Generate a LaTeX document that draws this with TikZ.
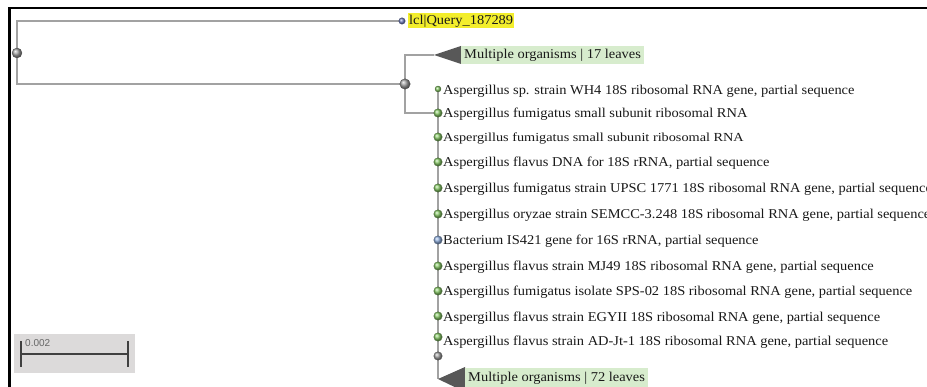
\documentclass[tikz,border=0pt]{standalone}
\usepackage{fontspec}
\setmainfont[FakeStretch=1.07]{Liberation Serif}
\newfontfamily\widefont[FakeStretch=1.16]{Liberation Serif}
\newfontfamily\barfont{Liberation Sans}
\usetikzlibrary{backgrounds}
\definecolor{edgegray}{HTML}{A2A2A2}
\definecolor{leafgreen}{HTML}{86C865}
\definecolor{cladebg}{HTML}{D7ECCD}
\definecolor{queryyel}{HTML}{F3EE2C}
\definecolor{tricol}{HTML}{585858}
\definecolor{scalebg}{HTML}{DCDADA}
\definecolor{qblue}{HTML}{7482C4}
\definecolor{bblue}{HTML}{8FAEDD}
\begin{document}
\begin{tikzpicture}[x=1pt,y=-1pt,
  edge/.style={draw=edgegray,line width=1.5pt},
  gdot/.style={circle,inner sep=0pt,minimum size=10pt,shading=ball,ball color=gray!75,draw=gray!60!black,line width=0.3pt},
  ldot/.style={circle,inner sep=0pt,minimum size=8.5pt,shading=ball,ball color=leafgreen,draw=leafgreen!55!black,line width=0.3pt},
  bdot/.style={circle,inner sep=0pt,minimum size=8.5pt,shading=ball,ball color=bblue,draw=bblue!55!black,line width=0.3pt},
  lbl/.style={anchor=base west,inner sep=0pt,font=\fontsize{13.5}{15}\selectfont,text=black!90},
  clbl/.style={anchor=west,inner xsep=3pt,inner ysep=0pt,minimum height=18pt,fill=cladebg,font=\fontsize{13.5}{15}\selectfont,text=black!90}
]
\useasboundingbox (0,0) rectangle (927,387);
\clip (0,0) rectangle (927,387);

% frame
\draw[black,line width=2.5pt] (9.5,387) -- (9.5,8) -- (927,8);

% internal nodes
\node[gdot] (root) at (17,53) {};
\node[gdot,minimum size=10.5pt] (n1) at (405,84) {};
\node[circle,inner sep=0pt,minimum size=6.5pt,shading=ball,ball color=qblue,draw=qblue!55!black,line width=0.3pt] (q) at (402,21) {};
\node[anchor=west,fill=queryyel,inner xsep=1pt,inner ysep=0pt,minimum height=15pt,font=\fontsize{13.5}{15}\selectfont,text=black!90] (qlbl) at (408,21) {lcl|Query\_187289};

% collapsed clade 17
\coordinate (c17) at (434,55);
\fill[tricol] (c17) -- (461,46) -- (461,64) -- cycle;
\node[clbl] (c17lbl) at (461,55) {Multiple organisms | 17 leaves};

% leaves
\node[ldot,minimum size=6pt] (l1) at (438,89) {};
\node[ldot] (l2) at (438,113) {};
\node[ldot] (l3) at (438,137) {};
\node[ldot] (l4) at (438,162) {};
\node[ldot] (l5) at (438,188) {};
\node[ldot] (l6) at (438,214) {};
\node[bdot] (l7) at (438,240) {};
\node[ldot] (l8) at (438,266) {};
\node[ldot] (l9) at (438,291) {};
\node[ldot] (l10) at (438,316) {};
\node[ldot] (l11) at (438,337) {};
\node[gdot,minimum size=8.5pt] (n2) at (438,356) {};
\coordinate (c72) at (438,379);
\fill[tricol] (c72) -- (465,367) -- (465,392) -- cycle;
\node[clbl,minimum height=20pt] (c72lbl) at (465,378) {Multiple organisms | 72 leaves};

\node[lbl] (t1) at (443,95) {Aspergillus sp. strain WH4 18S ribosomal RNA gene, partial sequence};
\node[lbl] (t2) at (443,118) {Aspergillus fumigatus small subunit ribosomal RNA};
\node[lbl,font=\widefont\fontsize{12.3}{14}\selectfont] (t3) at (443,141.5) {Aspergillus fumigatus small subunit ribosomal RNA};
\node[lbl] (t4) at (443,167) {Aspergillus flavus DNA for 18S rRNA, partial sequence};
\node[lbl] (t5) at (443,193) {Aspergillus fumigatus strain UPSC 1771 18S ribosomal RNA gene, partial sequence};
\node[lbl] (t6) at (443,219) {Aspergillus oryzae strain SEMCC-3.248 18S ribosomal RNA gene, partial sequence};
\node[lbl] (t7) at (443,245) {Bacterium IS421 gene for 16S rRNA, partial sequence};
\node[lbl] (t8) at (443,271) {Aspergillus flavus strain MJ49 18S ribosomal RNA gene, partial sequence};
\node[lbl] (t9) at (443,296) {Aspergillus fumigatus isolate SPS-02 18S ribosomal RNA gene, partial sequence};
\node[lbl] (t10) at (443,322) {Aspergillus flavus strain EGYII 18S ribosomal RNA gene, partial sequence};
\node[lbl] (t11) at (443,346) {Aspergillus flavus strain AD-Jt-1 18S ribosomal RNA gene, partial sequence};

% edges (behind the nodes)
\begin{scope}[on background layer]
\fill[white] (0,0) rectangle (927,387);
\draw[edge] (q.center) -| (root.center) |- (n1.center);
\draw[edge] (c17) -| (n1.center) |- (l2.center);
\draw[edge] (l1.center) -- (n2.center) -- (c72);
\end{scope}

% scale bar
\fill[scalebg] (14,334) rectangle (135,373);
\coordinate (sbl) at (21,354);
\coordinate (sbr) at (128,354);
\draw[black!75,line width=2pt] (sbl) -- (sbr);
\draw[black!75,line width=2pt] ([yshift=-13pt]sbl) -- ([yshift=13pt]sbl);
\draw[black!75,line width=2pt] ([yshift=-13pt]sbr) -- ([yshift=13pt]sbr);
\node[anchor=base west,inner sep=0pt,font=\barfont\fontsize{10}{12}\selectfont,text=black!60] (sblbl) at (25,347) {0.002};
\end{tikzpicture}
\end{document}
